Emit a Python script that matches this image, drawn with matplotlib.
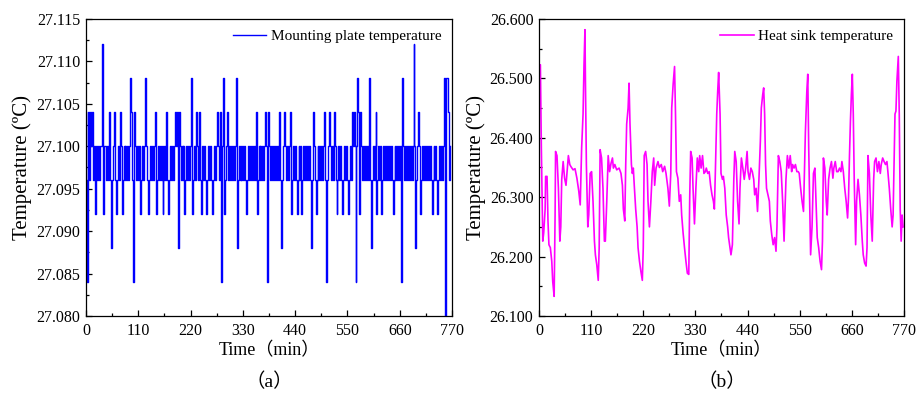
import numpy as np
import matplotlib
matplotlib.use('Agg')
import matplotlib.pyplot as plt
from matplotlib.ticker import MultipleLocator, FormatStrFormatter


# mounting plate: quantised readings, one code per 2 min sample
PLATE_STEP = 2
PLATE_LEVELS = {'a': 27.080, 'b': 27.084, 'c': 27.088, 'd': 27.092, 'e': 27.096,
                'f': 27.100, 'g': 27.104, 'h': 27.108, 'i': 27.112}
plate_codes = [
    "gebgegfgefdfefeffidf",  # 0-38
    "ffefegecefgedefegfde",  # 40-78
    "fefefefhgebgfefefdef",  # 80-118
    "effhfedefefefgdefefe",  # 120-158
    "fdefegedefefefgfgcgf",  # 160-198
    "efefdefefefhdefegfeg",  # 200-238
    "edefefedefefedefefgf",  # 240-278
    "egebfhdefgefefefefhc",  # 280-318
    "efefefefedefefefefeg",  # 320-358
    "defefefefgfbgfefefef",  # 360-398
    "efefgecefgfefefgdefe",  # 400-438
    "fedefefdefefefefeceg",  # 440-478
    "fedefefefefgebefgfef",  # 480-518
    "egfedefefedefefedefe",  # 520-558
    "gfgfbfhgdgfefefefehe",  # 560-598
    "cefefgdefefdefefefef",  # 600-638
    "efedefefefefbhfefefe",  # 640-678
    "fefefifcefgfdefefefe",  # 680-718
    "fefedefefedefefefhah",  # 720-758
    "hgef",                  # 760-766
]

# heat sink temperature
sink_t = [0, 3, 5, 7, 8, 10, 13, 14, 17, 19, 21, 24, 27, 29, 32, 34, 35, 38, 41, 44,
          46, 48, 51, 54, 57, 59, 62, 65, 67, 72, 76, 80, 84, 87, 90, 93, 95, 97, 98, 100,
          103, 105, 108, 111, 114, 117, 119, 122, 125, 127, 129, 132, 135, 138, 140, 143, 146, 149, 152, 155,
          157, 160, 164, 169, 173, 176, 178, 181, 183, 185, 188, 190, 192, 195, 197, 199, 201, 204, 207, 209,
          212, 215, 218, 220, 222, 225, 228, 230, 233, 236, 239, 242, 244, 247,
          251, 254, 258, 261, 265, 268, 272, 275, 278, 280, 283, 286, 288, 290, 293, 296, 299, 301, 304, 307,
          310, 313, 316, 318, 320, 323, 325, 328, 331, 334, 337, 339, 342, 345, 348, 351, 353, 356, 359, 362,
          365, 368, 370, 372, 375, 377, 379, 382, 384, 387, 389, 392, 395, 398, 400, 403, 405, 408, 411, 413,
          416, 419, 422, 424, 427, 430, 433, 436, 439, 441, 444, 447, 450, 453, 455, 458, 461, 464, 467, 469,
          472, 474, 476, 478, 480, 483, 486, 488, 491, 494, 497, 500, 502, 505, 508, 511, 514, 517,
          521, 524, 527, 530, 533, 535, 538, 541, 544, 547, 549, 552, 555, 558, 560, 562, 565, 567, 569, 571,
          573, 576, 579, 582, 585, 587, 590, 593, 596, 598, 600, 603, 606, 608, 611, 614, 617, 620, 622, 625,
          628, 631, 634, 637, 639, 642, 645, 648, 651, 653, 655, 657, 659, 661, 663, 665, 668, 670, 673, 676,
          679, 682, 684, 687, 690, 692, 694, 697, 700, 703, 706, 708, 711, 714, 717, 720, 722, 725, 728, 731,
          734, 736, 739, 742, 745, 747, 749, 751, 753, 755, 758, 760, 762, 764, 766, 768]
sink_temp = [26.47, 26.523, 26.383, 26.27, 26.226, 26.24, 26.28, 26.335, 26.335, 26.26,
             26.22, 26.215, 26.192, 26.158, 26.133, 26.27, 26.377, 26.37, 26.315, 26.226,
             26.25, 26.33, 26.36, 26.332, 26.32, 26.34, 26.37, 26.355, 26.352, 26.346,
             26.348, 26.332, 26.31, 26.287, 26.383, 26.44, 26.523, 26.582, 26.495, 26.355,
             26.25, 26.27, 26.34, 26.343, 26.293, 26.226, 26.203, 26.186, 26.16, 26.215,
             26.38, 26.366, 26.315, 26.226, 26.226, 26.293, 26.37, 26.343, 26.357, 26.366,
             26.349, 26.355, 26.346, 26.349, 26.34, 26.32, 26.28, 26.26, 26.355, 26.423,
             26.45, 26.492, 26.423, 26.355, 26.34, 26.349, 26.32, 26.28, 26.25, 26.215,
             26.192, 26.175, 26.16, 26.215, 26.37, 26.377, 26.355, 26.293, 26.25, 26.293,
             26.343, 26.366, 26.32, 26.349,
             26.36, 26.35, 26.355, 26.343, 26.352, 26.34, 26.315, 26.285, 26.34, 26.45,
             26.49, 26.52, 26.44, 26.343, 26.332, 26.293, 26.304, 26.27, 26.24, 26.215,
             26.192, 26.172, 26.17, 26.3, 26.377, 26.366, 26.315, 26.255, 26.315, 26.366,
             26.343, 26.37, 26.349, 26.37, 26.34, 26.343, 26.349, 26.34, 26.343, 26.32,
             26.304, 26.293, 26.28, 26.34, 26.44, 26.478, 26.51, 26.44, 26.34, 26.33,
             26.335, 26.315, 26.27, 26.25, 26.232, 26.215, 26.203, 26.22, 26.33, 26.377,
             26.36, 26.293, 26.255, 26.315, 26.366, 26.349, 26.33, 26.349, 26.377, 26.343,
             26.33, 26.349, 26.343, 26.33, 26.304, 26.315, 26.276, 26.33, 26.394, 26.45,
             26.473, 26.484, 26.44, 26.355, 26.315, 26.304, 26.293, 26.26, 26.237, 26.22,
             26.232, 26.209, 26.25, 26.37, 26.36, 26.343, 26.293, 26.226,
             26.33, 26.37, 26.349, 26.37, 26.343, 26.355, 26.349, 26.355, 26.343, 26.343,
             26.34, 26.315, 26.293, 26.276, 26.34, 26.41, 26.478, 26.507, 26.383, 26.293,
             26.203, 26.25, 26.34, 26.349, 26.28, 26.232, 26.215, 26.192, 26.178, 26.226,
             26.366, 26.349, 26.293, 26.27, 26.33, 26.349, 26.36, 26.332, 26.349, 26.36,
             26.343, 26.343, 26.349, 26.343, 26.36, 26.343, 26.315, 26.293, 26.265, 26.3,
             26.37, 26.428, 26.473, 26.507, 26.44, 26.33, 26.22, 26.293, 26.33, 26.304,
             26.27, 26.226, 26.203, 26.189, 26.184, 26.215, 26.37, 26.34, 26.27, 26.226,
             26.33, 26.36, 26.366, 26.343, 26.36, 26.34, 26.355, 26.366, 26.36, 26.355,
             26.36, 26.343, 26.315, 26.28, 26.25, 26.27, 26.355, 26.44, 26.445, 26.495,
             26.537, 26.44, 26.28, 26.226, 26.27, 26.25]

x_ticks = [0, 110, 220, 330, 440, 550, 660, 770]

plt.rcParams['font.family'] = ['Liberation Serif', 'Noto Sans CJK SC']
plt.rcParams['axes.linewidth'] = 0.9

plate_vals = [PLATE_LEVELS[c] for c in "".join(plate_codes)]
plate_t = np.arange(len(plate_vals)) * PLATE_STEP

fig = plt.figure(figsize=(9.16, 3.94), dpi=100)
ax1 = fig.add_axes([0.0939, 0.198, 0.3996, 0.7538])
ax2 = fig.add_axes([0.5884, 0.198, 0.3985, 0.7538])

ax1.plot(plate_t, plate_vals, color='#0000ff', lw=1.0, drawstyle='steps-mid',
         label='Mounting plate temperature')
ax2.plot(sink_t, sink_temp, color='#ff00ff', lw=1.2, label='Heat sink temperature')


def style(ax, ylo, yhi, ymaj, caption):
    ax.set_xlim(0, 770)
    ax.set_ylim(ylo, yhi)
    ax.set_xticks(x_ticks)
    ax.xaxis.set_minor_locator(MultipleLocator(55))
    ax.yaxis.set_major_locator(MultipleLocator(ymaj))
    ax.yaxis.set_minor_locator(MultipleLocator(ymaj / 2))
    ax.yaxis.set_major_formatter(FormatStrFormatter('%.3f'))
    ax.tick_params(which='both', direction='in', top=False, right=False,
                   labelsize=11.5, width=0.9)
    ax.tick_params(which='major', length=4.5)
    ax.tick_params(axis='x', which='major', pad=5)
    ax.tick_params(axis='y', which='major', pad=4)
    ax.tick_params(which='minor', length=2.5)
    ax.set_xlabel('Time（min）', fontsize=13, labelpad=2)
    ax.set_ylabel('Temperature (ºC)', fontsize=15, labelpad=3)
    ax.legend(loc='upper right', frameon=False, fontsize=11, handlelength=2.2,
              handletextpad=0.3, borderaxespad=0.3)
    pos = ax.get_position()
    fig.text(pos.x0 + pos.width / 2, 0.03, caption, ha='center', va='center', fontsize=14)


style(ax1, 27.080, 27.115, 0.005, '（a）')
style(ax2, 26.100, 26.600, 0.1, '（b）')

fig.savefig('out.png', dpi=100)
